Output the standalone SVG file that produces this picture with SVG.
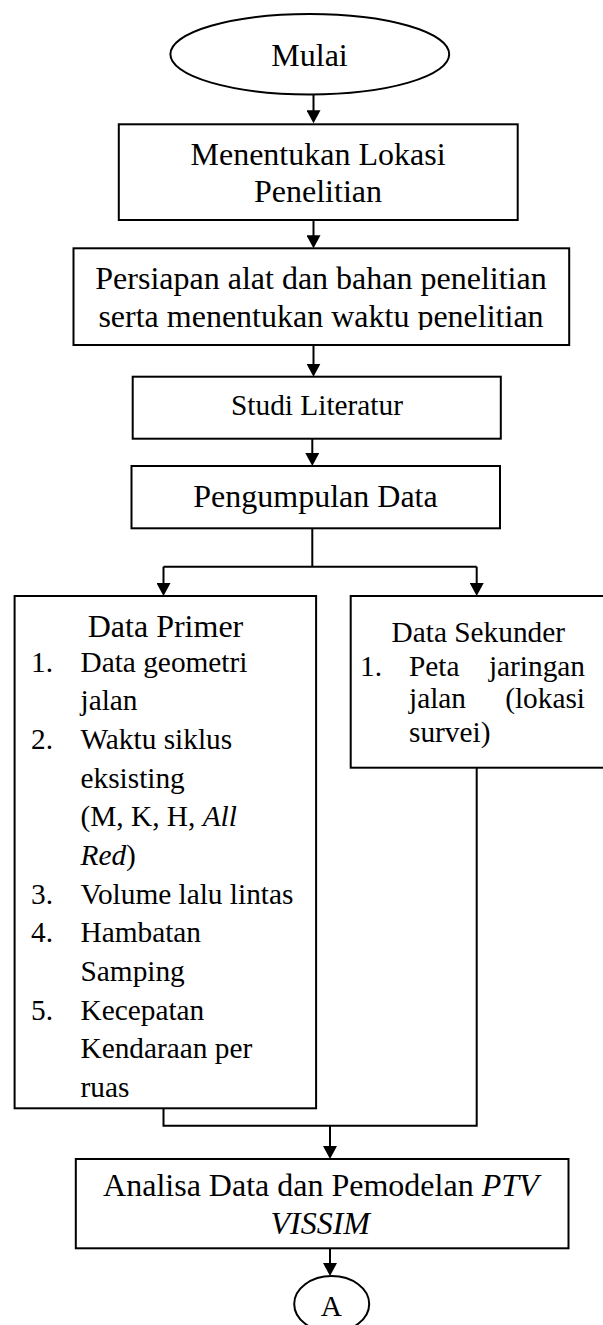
<svg xmlns="http://www.w3.org/2000/svg" width="603" height="1325" viewBox="0 0 603 1325">
<style>
.box{fill:#fff;stroke:#000;stroke-width:2}
.ln{fill:none;stroke:#000;stroke-width:2}
text{font-family:"Liberation Serif","Times New Roman",serif;fill:#000}
.t32{font-size:32px}
.t29{font-size:29.33px}
.c{text-anchor:middle}
.e{text-anchor:end}
.i{font-style:italic}
</style>
<defs>
<marker id="ah" markerUnits="userSpaceOnUse" markerWidth="13" markerHeight="14" refX="8" refY="7" orient="auto">
<path d="M0,0 L13,7 L0,14 z" fill="#000"/>
</marker>
<clipPath id="clip2"><rect x="60" y="240" width="520" height="90"/></clipPath>
</defs>
<rect width="603" height="1325" fill="#fff"/>

<g id="connectors">
<path class="ln" d="M313.5,94.5 V118.3" marker-end="url(#ah)"/>
<path class="ln" d="M313.5,220 V243.3" marker-end="url(#ah)"/>
<path class="ln" d="M313.5,345 V371.7" marker-end="url(#ah)"/>
<path class="ln" d="M312.3,438.7 V461" marker-end="url(#ah)"/>
<path class="ln" d="M312.3,528.3 V566.7 M163.5,566.7 H476.7"/>
<path class="ln" d="M163.5,566.7 V591" marker-end="url(#ah)"/>
<path class="ln" d="M476.7,566.7 V591" marker-end="url(#ah)"/>
<path class="ln" d="M163.5,1108.3 V1125.7 H476.7 V767.7"/>
<path class="ln" d="M330,1125.7 V1154" marker-end="url(#ah)"/>
<path class="ln" d="M330,1248.3 V1271" marker-end="url(#ah)"/>
</g>

<g id="mulai">
<ellipse class="box" cx="309.8" cy="54.2" rx="139.4" ry="40.2"/>
<text class="t32 c" x="309.5" y="65.7">Mulai</text>
</g>

<g id="lokasi">
<rect class="box" x="118.8" y="124.3" width="398.9" height="95.7"/>
<text class="t32 c" x="318" y="165">Menentukan Lokasi</text>
<text class="t32 c" x="318" y="201.7">Penelitian</text>
</g>

<g id="persiapan">
<rect class="box" x="73.5" y="248.3" width="495.7" height="96.7"/>
<text class="t32 c" x="321" y="289">Persiapan alat dan bahan penelitian</text>
<text class="t32 c" x="321" y="326.5" clip-path="url(#clip2)">serta menentukan waktu penelitian</text>
</g>

<g id="studi">
<rect class="box" x="132.7" y="376.7" width="368.1" height="62"/>
<text class="t29 c" x="317" y="415">Studi Literatur</text>
</g>

<g id="pengumpulan">
<rect class="box" x="131.5" y="466" width="368.5" height="62.3"/>
<text class="t32 c" x="315.5" y="506.7">Pengumpulan Data</text>
</g>

<g id="primer">
<rect class="box" x="14.6" y="596" width="301.5" height="512.3"/>
<text class="t32 c" x="165.5" y="636.7">Data Primer</text>
<text class="t29" x="31" y="671.7">1.</text>
<text class="t29" x="80.5" y="671.7">Data geometri</text>
<text class="t29" x="80.5" y="710.3">jalan</text>
<text class="t29" x="31" y="749">2.</text>
<text class="t29" x="80.5" y="749">Waktu siklus</text>
<text class="t29" x="80.5" y="787.6">eksisting</text>
<text class="t29" x="80.5" y="826.3">(M, K, H, <tspan class="i">All</tspan></text>
<text class="t29" x="80.5" y="864.9"><tspan class="i">Red</tspan>)</text>
<text class="t29" x="31" y="903.5">3.</text>
<text class="t29" x="80.5" y="903.5">Volume lalu lintas</text>
<text class="t29" x="31" y="942.2">4.</text>
<text class="t29" x="80.5" y="942.2">Hambatan</text>
<text class="t29" x="80.5" y="980.8">Samping</text>
<text class="t29" x="31" y="1019.5">5.</text>
<text class="t29" x="80.5" y="1019.5">Kecepatan</text>
<text class="t29" x="80.5" y="1058.1">Kendaraan per</text>
<text class="t29" x="80.5" y="1096.7">ruas</text>
</g>

<g id="sekunder">
<rect class="box" x="350.7" y="596" width="256" height="171.7"/>
<text class="t29 c" x="478.3" y="641.7">Data Sekunder</text>
<text class="t29" x="360" y="676">1.</text>
<text class="t29" x="409" y="676">Peta</text>
<text class="t29 e" x="585" y="676">jaringan</text>
<text class="t29" x="409" y="708.3">jalan</text>
<text class="t29 e" x="585" y="708.3">(lokasi</text>
<text class="t29" x="409" y="741.7">survei)</text>
</g>

<g id="analisa">
<rect class="box" x="75.8" y="1159" width="492.7" height="89.3"/>
<text class="t32 c" x="320.8" y="1196">Analisa Data dan Pemodelan <tspan class="i">PTV</tspan></text>
<text class="t32 c i" x="320.2" y="1234.3">VISSIM</text>
</g>

<g id="konektorA">
<ellipse class="box" cx="331.7" cy="1304" rx="37.5" ry="28"/>
<text class="t29 c" x="331.3" y="1316">A</text>
</g>
</svg>
